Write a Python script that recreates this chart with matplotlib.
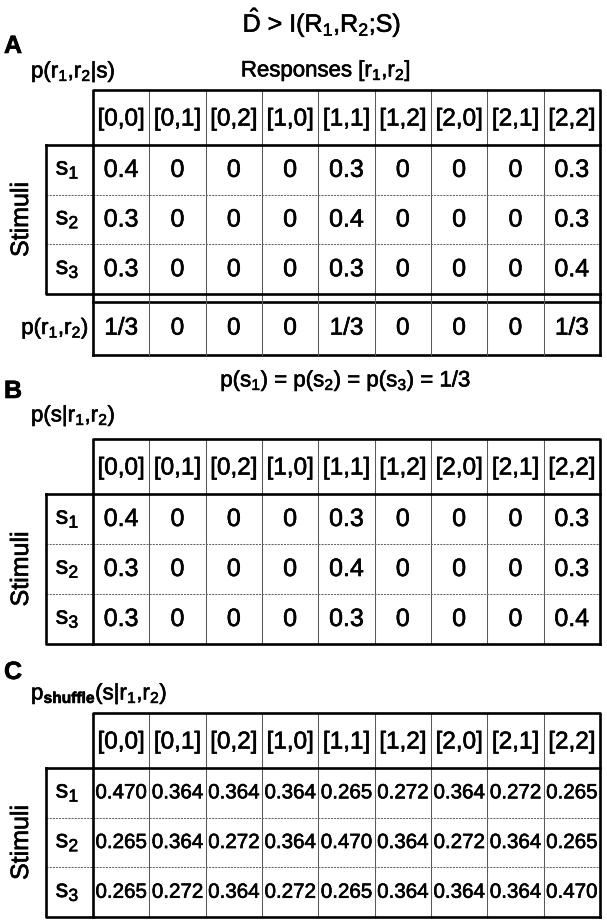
import matplotlib
matplotlib.use("Agg")
import matplotlib.pyplot as plt
import matplotlib.patheffects as pe
from matplotlib import font_manager

plt.rcParams['font.family'] = ['Liberation Sans', 'DejaVu Sans']
plt.rcParams['mathtext.fontset'] = 'custom'
plt.rcParams['mathtext.rm'] = 'Liberation Sans'
plt.rcParams['mathtext.it'] = 'Liberation Sans'
plt.rcParams['mathtext.bf'] = 'Liberation Sans:bold'

# dados
respostas = ['[0,0]', '[0,1]', '[0,2]', '[1,0]', '[1,1]', '[1,2]', '[2,0]', '[2,1]', '[2,2]']
estimulos = ['s$_1$', 's$_2$', 's$_3$']
p_r_dado_s = [[0.4, 0, 0, 0, 0.3, 0, 0, 0, 0.3],
              [0.3, 0, 0, 0, 0.4, 0, 0, 0, 0.3],
              [0.3, 0, 0, 0, 0.3, 0, 0, 0, 0.4]]
p_r = ['1/3', '0', '0', '0', '1/3', '0', '0', '0', '1/3']
p_s_dado_r = [[0.4, 0, 0, 0, 0.3, 0, 0, 0, 0.3],
              [0.3, 0, 0, 0, 0.4, 0, 0, 0, 0.3],
              [0.3, 0, 0, 0, 0.3, 0, 0, 0, 0.4]]
p_shuffle = [[0.470, 0.364, 0.364, 0.364, 0.265, 0.272, 0.364, 0.272, 0.265],
             [0.265, 0.364, 0.272, 0.364, 0.470, 0.364, 0.272, 0.364, 0.265],
             [0.265, 0.272, 0.364, 0.272, 0.265, 0.364, 0.364, 0.364, 0.470]]

# fonte estreita para o painel C, se existir
nomes = {f.name for f in font_manager.fontManager.ttflist}
if 'Liberation Sans Narrow' in nomes:
    fonte_c, tam_c = 'Liberation Sans Narrow', 16.5
else:
    fonte_c, tam_c = 'Liberation Sans', 14.8

# contorno leve pra imitar a impressao escaneada
efeito = [pe.withStroke(linewidth=0.45, foreground='k')]

fig = plt.figure(figsize=(6.07, 9.23), dpi=100)
ax = fig.add_axes([0, 0, 1, 1])
ax.set_xlim(0, 607)
ax.set_ylim(923, 0)
ax.axis('off')


def texto(x, y, s, **kw):
    kw.setdefault('ha', 'center')
    kw.setdefault('va', 'center')
    return ax.text(x, y, s, path_effects=efeito, **kw)


# geometria das tabelas
x_lab = 46
x0 = 93
x1 = 600
larg = (x1 - x0) / len(respostas)
grosso = 1.9
fino = 0.75


def tabela(topo, alt_cab, alt_lin, valores, fmt, tam, familia='Liberation Sans', linha_p=None):
    y_cab = topo + alt_cab
    y_fim = y_cab + alt_lin * len(estimulos)
    # cabecalho
    for j, r in enumerate(respostas):
        texto(x0 + (j + 0.5) * larg, topo + alt_cab / 2 + 2, r, fontsize=17.5)
    # linhas de estimulos
    for i, s in enumerate(estimulos):
        yc = y_cab + (i + 0.5) * alt_lin
        texto((x_lab + x0) / 2 - 2, yc - 1, s, fontsize=18)
        for j in range(len(respostas)):
            texto(x0 + (j + 0.5) * larg, yc, fmt(valores[i][j]), fontsize=tam, family=familia)
    texto(21, (y_cab + y_fim) / 2, 'Stimuli', rotation=90, fontsize=18)
    y_baixo = y_fim
    if linha_p is not None:
        yp0 = y_fim + 8
        yp1 = yp0 + 53
        for j, v in enumerate(linha_p):
            texto(x0 + (j + 0.5) * larg, (yp0 + yp1) / 2, v, fontsize=17.5)
        texto(x0 - 4, (yp0 + yp1) / 2, 'p(r$_1$,r$_2$)', ha='right', fontsize=16)
        ax.plot([x0, x1], [yp0, yp0], color='k', lw=grosso)
        ax.plot([x0, x1], [yp1, yp1], color='k', lw=grosso)
        ax.plot([x1, x1], [y_fim, yp1], color='k', lw=grosso)
        ax.plot([x0, x0], [y_fim, yp1], color='k', lw=grosso)
        y_baixo = yp1
    # divisorias internas
    for j in range(1, len(respostas)):
        xx = x0 + j * larg
        ax.plot([xx, xx], [topo, y_baixo], color='0.35', lw=fino)
    for i in range(1, len(estimulos)):
        yy = y_cab + i * alt_lin
        ax.plot([x_lab, x1], [yy, yy], color='0.4', lw=fino, ls=(0, (2, 1)))
    # bordas grossas
    ax.plot([x0, x0, x1, x1], [y_cab, topo, topo, y_fim], color='k', lw=grosso)
    ax.plot([x_lab, x1], [y_cab, y_cab], color='k', lw=grosso)
    ax.plot([x_lab, x_lab, x1], [y_cab, y_fim, y_fim], color='k', lw=grosso)
    ax.plot([x0, x0], [y_cab, y_fim], color='k', lw=grosso)


# Painel A
texto(322, 22, r'$\hat{\mathrm{D}}$ > I(R$_1$,R$_2$;S)', fontsize=18)
texto(4, 46, 'A', ha='left', fontsize=18, weight='bold')
texto(31, 72, 'p(r$_1$,r$_2$|s)', ha='left', fontsize=16)
texto(326, 71, 'Responses [r$_1$,r$_2$]', fontsize=16)
tabela(90, 55, 49.7, p_r_dado_s, lambda v: f'{v:g}', 18, linha_p=p_r)

# Painel B
texto(346, 381, 'p(s$_1$) = p(s$_2$) = p(s$_3$) = 1/3', fontsize=16)
texto(4, 391, 'B', ha='left', fontsize=18, weight='bold')
texto(31, 416, 'p(s|r$_1$,r$_2$)', ha='left', fontsize=16)
tabela(439, 55, 50, p_s_dado_r, lambda v: f'{v:g}', 18)

# Painel C
texto(4, 672, 'C', ha='left', fontsize=18, weight='bold')
texto(31, 694, r'p$_{\mathbf{shuffle}}$(s|r$_1$,r$_2$)', ha='left', fontsize=16)
tabela(713, 55, 49.7, p_shuffle, lambda v: f'{v:.3f}', tam_c, familia=fonte_c)

fig.savefig('out.png', dpi=100)
